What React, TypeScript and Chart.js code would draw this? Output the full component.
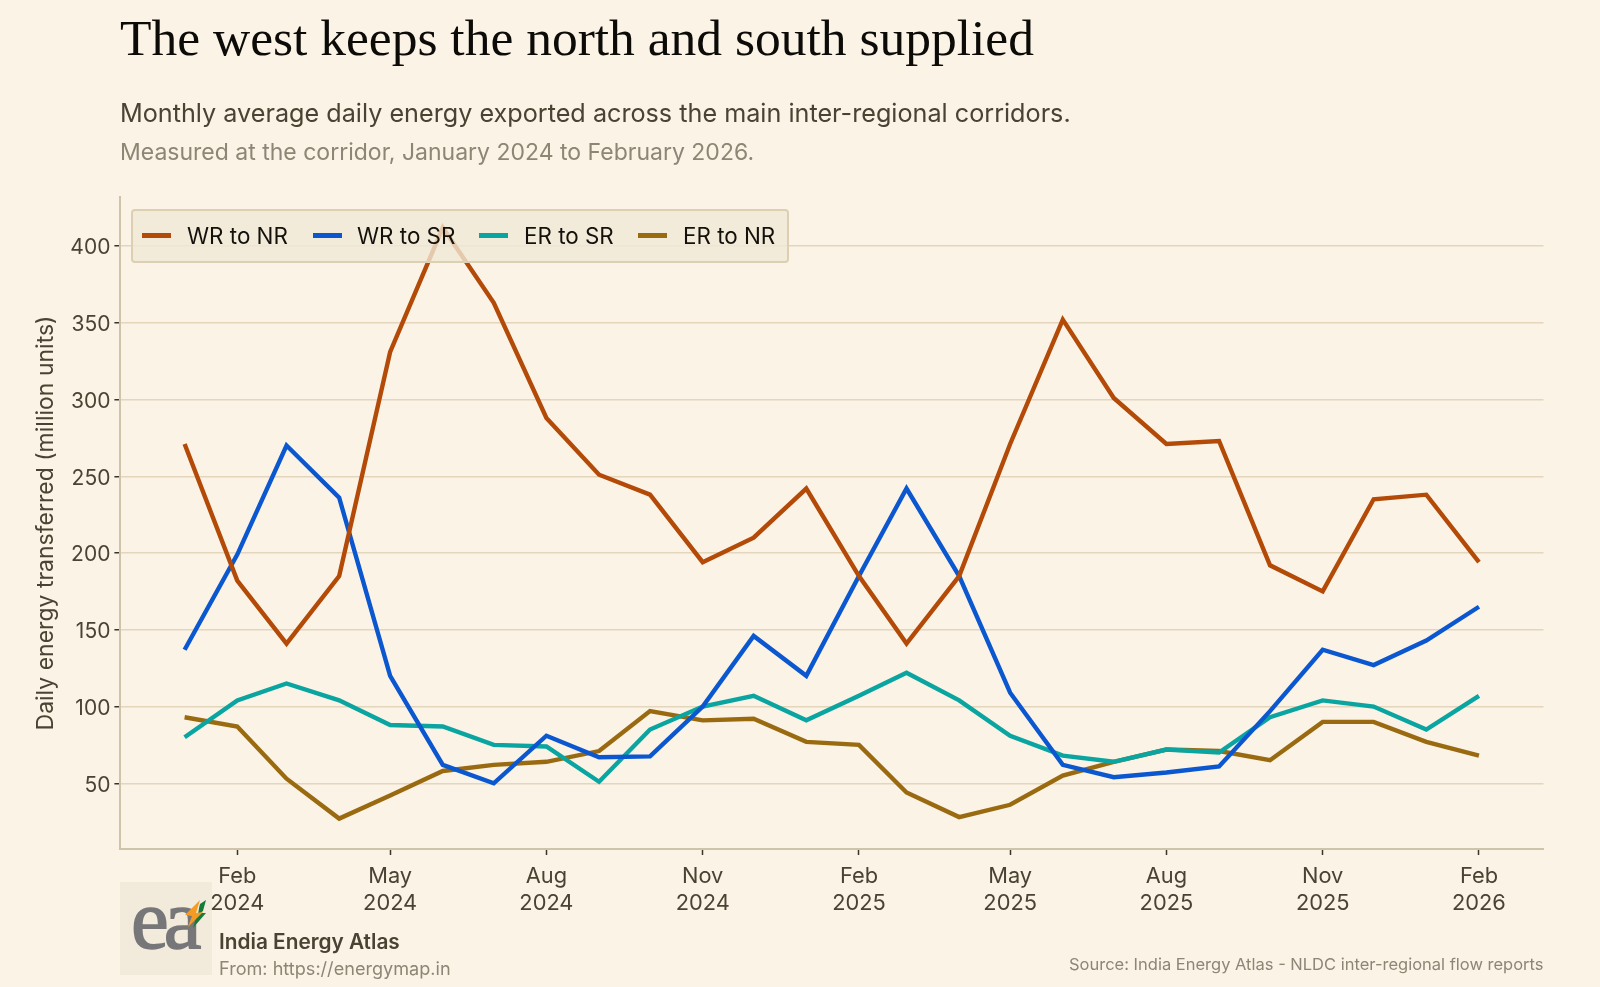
import { useEffect, useRef } from "react";
import { Chart, registerables } from "chart.js";

Chart.register(...registerables);

const months = [
  "2024-01-01", "2024-02-01", "2024-03-01", "2024-04-01", "2024-05-01", "2024-06-01", "2024-07-01",
  "2024-08-01", "2024-09-01", "2024-10-01", "2024-11-01", "2024-12-01", "2025-01-01", "2025-02-01",
  "2025-03-01", "2025-04-01", "2025-05-01", "2025-06-01", "2025-07-01", "2025-08-01", "2025-09-01",
  "2025-10-01", "2025-11-01", "2025-12-01", "2026-01-01", "2026-02-01",
];

const wrToNr = [271, 182, 141, 185, 331, 412, 363, 288, 251, 238, 194, 210, 242, 185, 141, 185, 271, 352, 301, 271, 273, 192, 175, 235, 238, 194];
const wrToSr = [137, 199, 270, 236, 120, 62, 50, 81, 67, 67.5, 100, 146, 120, 185, 242, 185, 109, 62, 54, 57, 61, 97, 137, 127, 143, 165];
const erToSr = [80, 104, 115, 104, 88, 87, 75, 74, 51, 85, 100, 107, 91, 107, 122, 104, 81, 68, 64, 72, 70, 93, 104, 100, 85, 107];
const erToNr = [93, 87, 53, 27, 42, 58, 62, 64, 71, 97, 91, 92, 77, 75, 44, 28, 36, 55, 64, 72, 71, 65, 90, 90, 77, 68];

const seriesNames = ["WR to NR", "WR to SR", "ER to SR", "ER to NR"];
const seriesColors = ["#b34a08", "#0b57d0", "#0aa5a0", "#9a6a10"];
const seriesValues = [wrToNr, wrToSr, erToSr, erToNr];

const yTicks = [50, 100, 150, 200, 250, 300, 350, 400];
const xTickDates = ["2024-02-01", "2024-05-01", "2024-08-01", "2024-11-01", "2025-02-01", "2025-05-01", "2025-08-01", "2025-11-01", "2026-02-01"];
const xTickLabels = [["Feb", "2024"], ["May", "2024"], ["Aug", "2024"], ["Nov", "2024"], ["Feb", "2025"], ["May", "2025"], ["Aug", "2025"], ["Nov", "2025"], ["Feb", "2026"]];

const dayOf = (iso: string) => Date.parse(iso) / 86400000;
const xTickDays = xTickDates.map(dayOf);

const sans = "Inter, sans-serif";
const inkColor = "#4a4232";
const mutedColor = "#8d8675";
const gridColor = "#e3d6bc";
const axisColor = "#cfc3aa";

const legendSwatchLefts = [142, 313, 479, 638];
const legendTextLefts = [187, 357, 524, 683];

const Text = ({ x, y, size, color, weight, font, right, children }: any) => (
  <div
    style={{
      position: "absolute",
      left: right ? undefined : x,
      right: right ? 1600 - x : undefined,
      top: y,
      fontSize: size,
      color,
      fontWeight: weight ?? 400,
      fontFamily: font ?? sans,
      lineHeight: 1,
      whiteSpace: "nowrap",
      transform: "translateY(-50%)",
    }}
  >
    {children}
  </div>
);

const App = () => {
  const chartRef = useRef<HTMLCanvasElement>(null);

  useEffect(() => {
    if (!chartRef.current) return;

    const chart = new Chart(chartRef.current, {
      type: "line",
      data: {
        datasets: seriesValues.map((values, i) => ({
          label: seriesNames[i],
          data: values.map((v, j) => ({ x: dayOf(months[j]), y: v })),
          borderColor: seriesColors[i],
          borderWidth: 4.4,
          pointRadius: 0,
          tension: 0,
        })),
      },
      options: {
        responsive: false,
        animation: false,
        layout: { padding: { top: 197, right: 56.5, left: 0, bottom: 0 } },
        plugins: { legend: { display: false }, tooltip: { enabled: false } },
        scales: {
          x: {
            type: "linear",
            min: dayOf("2024-02-01") - 68.8,
            max: dayOf("2024-02-01") + 769,
            afterFit: (s: any) => { s.height = 138; },
            afterBuildTicks: (s: any) => { s.ticks = xTickDays.map((v) => ({ value: v })); },
            border: { color: axisColor, width: 2 },
            grid: { drawOnChartArea: false, drawTicks: true, tickLength: 6, tickColor: "#3a3428", tickWidth: 1.5 },
            ticks: {
              autoSkip: false,
              maxRotation: 0,
              padding: 8,
              color: inkColor,
              font: { family: "Inter", size: 21.8, lineHeight: 1.24 },
              callback: (v: any) => xTickLabels[xTickDays.indexOf(Number(v))] ?? "",
            },
          },
          y: {
            min: 7.2,
            max: 431.9,
            afterFit: (s: any) => { s.width = 120.4; },
            afterBuildTicks: (s: any) => { s.ticks = yTicks.map((v) => ({ value: v })); },
            border: { color: axisColor, width: 2 },
            grid: { color: gridColor, lineWidth: 1.5, tickColor: "#3a3428", tickLength: 6, tickWidth: 1.5 },
            ticks: {
              padding: 4,
              labelOffset: 2,
              color: inkColor,
              font: { family: "Inter", size: 21 },
            },
            title: {
              display: true,
              text: "Daily energy transferred (million units)",
              color: inkColor,
              font: { family: "Inter", size: 23 },
              padding: { top: 32.5, bottom: 0 },
            },
          },
        },
      },
    });

    return () => chart.destroy();
  }, []);

  return (
    <div style={{ position: "absolute", left: 0, top: 0, width: 1600, height: 987, background: "#faf3e6", overflow: "hidden" }}>
      <div style={{ position: "absolute", left: 120, top: 882, width: 92, height: 93, background: "#f2ebdc" }} />
      <div style={{ position: "absolute", left: 131, top: 877, fontFamily: "'Liberation Serif', serif", fontSize: 85, lineHeight: 1, letterSpacing: -5, color: "#77777a", WebkitTextStroke: "1.5px #77777a" }}>ea</div>
      <svg style={{ position: "absolute", left: 120, top: 880 }} width={92} height={60}>
        <polygon points="80,24 86,20 83,31 78,35 79,28" fill="#167a3a" />
        <polygon points="86,33 73,48 76,38 72,39 80,33" fill="#167a3a" />
        <polygon points="80,20 76,33 83,32 68,47 72,36 65,35" fill="#f59a23" />
      </svg>

      <canvas ref={chartRef} width={1600} height={987} style={{ position: "absolute", left: 0, top: 0 }} />

      <Text x={120} y={38} size={51.5} color="#0d0b08" font="'Liberation Serif', serif">The west keeps the north and south supplied</Text>
      <Text x={120} y={114} size={25.2} color={inkColor}>Monthly average daily energy exported across the main inter-regional corridors.</Text>
      <Text x={120} y={152} size={23} color={mutedColor}>Measured at the corridor, January 2024 to February 2026.</Text>

      <div style={{ position: "absolute", left: 131, top: 209, width: 658, height: 54, boxSizing: "border-box", background: "rgba(240,233,215,0.8)", border: "2px solid #dccfb2", borderRadius: 4 }} />
      {seriesNames.map((name, i) => (
        <div key={name}>
          <div style={{ position: "absolute", left: legendSwatchLefts[i], top: 233, width: 29, height: 5, background: seriesColors[i] }} />
          <Text x={legendTextLefts[i]} y={236} size={22.4} color="#14110c">{name}</Text>
        </div>
      ))}

      <Text x={219} y={942} size={20.8} color={inkColor} weight={600}>India Energy Atlas</Text>
      <Text x={219} y={968} size={18.1} color={mutedColor}>From: https://energymap.in</Text>
      <Text x={1543.5} y={964} size={16.5} color={mutedColor} right>Source: India Energy Atlas - NLDC inter-regional flow reports</Text>
    </div>
  );
};

export default App;
